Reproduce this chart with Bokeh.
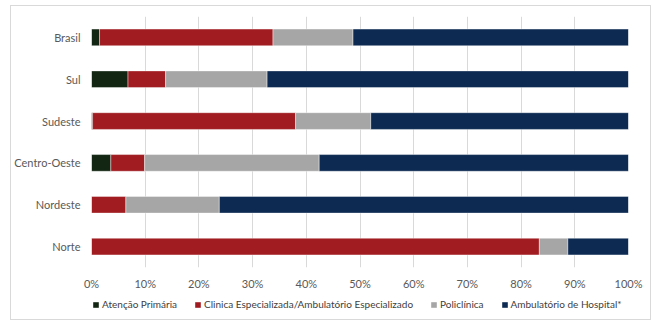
from bokeh.plotting import figure
from bokeh.layouts import column
from bokeh.models import ColumnDataSource, FactorRange, Range1d, NumeralTickFormatter, FixedTicker, Legend, LegendItem
from bokeh.embed import file_html
from bokeh.resources import INLINE

regions = ["Norte", "Nordeste", "Centro-Oeste", "Sudeste", "Sul", "Brasil"]
atencao_primaria = [0.0, 0.0, 3.6, 0.2, 6.8, 1.5]
clinica_especializada = [83.4, 6.4, 6.3, 37.8, 7.0, 32.3]
policlinica = [5.3, 17.4, 32.5, 14.0, 18.9, 14.9]
ambulatorio_hospital = [11.3, 76.2, 57.6, 48.0, 67.3, 51.3]

series_names = ["Atenção Primária", "Clinica Especializada/Ambulatório Especializado",
                "Policlínica", "Ambulatório de Hospital*"]
series_keys = ["ap", "ce", "po", "ah"]
colors = ["#132613", "#a01c21", "#a6a6a6", "#0d2a52"]
x_ticks = [0, 0.1, 0.2, 0.3, 0.4, 0.5, 0.6, 0.7, 0.8, 0.9, 1.0]

data = {
    "region": regions,
    "ap": [v / 100 for v in atencao_primaria],
    "ce": [v / 100 for v in clinica_especializada],
    "po": [v / 100 for v in policlinica],
    "ah": [v / 100 for v in ambulatorio_hospital],
}
source = ColumnDataSource(data)

FONT = "Lato"
BORDER = "1px solid #d9d9d9"

# ---- main chart ----
p = figure(y_range=FactorRange(*regions, range_padding=0), x_range=Range1d(0, 1),
           width=641, height=287, output_backend="svg", toolbar_location=None,
           min_border_left=79, min_border_right=24, min_border_top=10, min_border_bottom=26)
p.margin = (5, 0, 0, 10)
p.styles = {"border-top": BORDER, "border-left": BORDER, "border-right": BORDER}

p.hbar_stack(series_keys, y="region", height=0.4, fill_color=colors, source=source,
             line_color="white", line_width=0.6, line_alpha=0.7)

p.outline_line_color = None
p.background_fill_color = "white"
p.border_fill_color = "white"

p.ygrid.grid_line_color = None
p.xgrid.grid_line_color = "#d9d9d9"
p.xgrid.grid_line_width = 1
p.xaxis.ticker = FixedTicker(ticks=x_ticks)
p.xaxis.formatter = NumeralTickFormatter(format="0%")

for ax in (p.xaxis[0], p.yaxis[0]):
    ax.axis_line_color = None
    ax.major_tick_line_color = None
    ax.minor_tick_line_color = None
    ax.major_tick_out = 0
    ax.major_tick_in = 0
    ax.minor_tick_out = 0
    ax.minor_tick_in = 0
    ax.major_label_text_font = FONT
    ax.major_label_text_font_size = "11px"
    ax.major_label_text_color = "#595959"
p.yaxis.major_label_standoff = 11
p.xaxis.major_label_standoff = 9

# ---- legend strip (same series as zero-height, outline-free bars outside the view) ----
lg = figure(width=641, height=28, output_backend="svg", toolbar_location=None,
            x_range=Range1d(2, 3), y_range=FactorRange(*regions),
            x_axis_location=None, y_axis_location=None,
            min_border_left=49, min_border_right=0, min_border_top=0, min_border_bottom=0)
lg.margin = (0, 0, 0, 10)
lg.styles = {"border-bottom": BORDER, "border-left": BORDER, "border-right": BORDER}
lg.grid.visible = False
lg.outline_line_color = None
lg.background_fill_color = "white"
lg.border_fill_color = "white"

legend_renderers = lg.hbar_stack(series_keys, y="region", height=0, fill_color=colors,
                                 line_color=None, source=source)
items = [LegendItem(label=n, renderers=[r]) for n, r in zip(series_names, legend_renderers)]
legend = Legend(items=items, orientation="horizontal", location=(1, 10),
                glyph_width=7, glyph_height=7, label_standoff=3, spacing=17,
                label_text_font=FONT, label_text_font_size="10px", label_text_color="#404040",
                border_line_color=None, background_fill_alpha=0, padding=0, margin=0,
                label_height=12)
lg.add_layout(legend, "center")

layout = column(p, lg, spacing=0)
open("out.html", "w").write(file_html(layout, INLINE))
